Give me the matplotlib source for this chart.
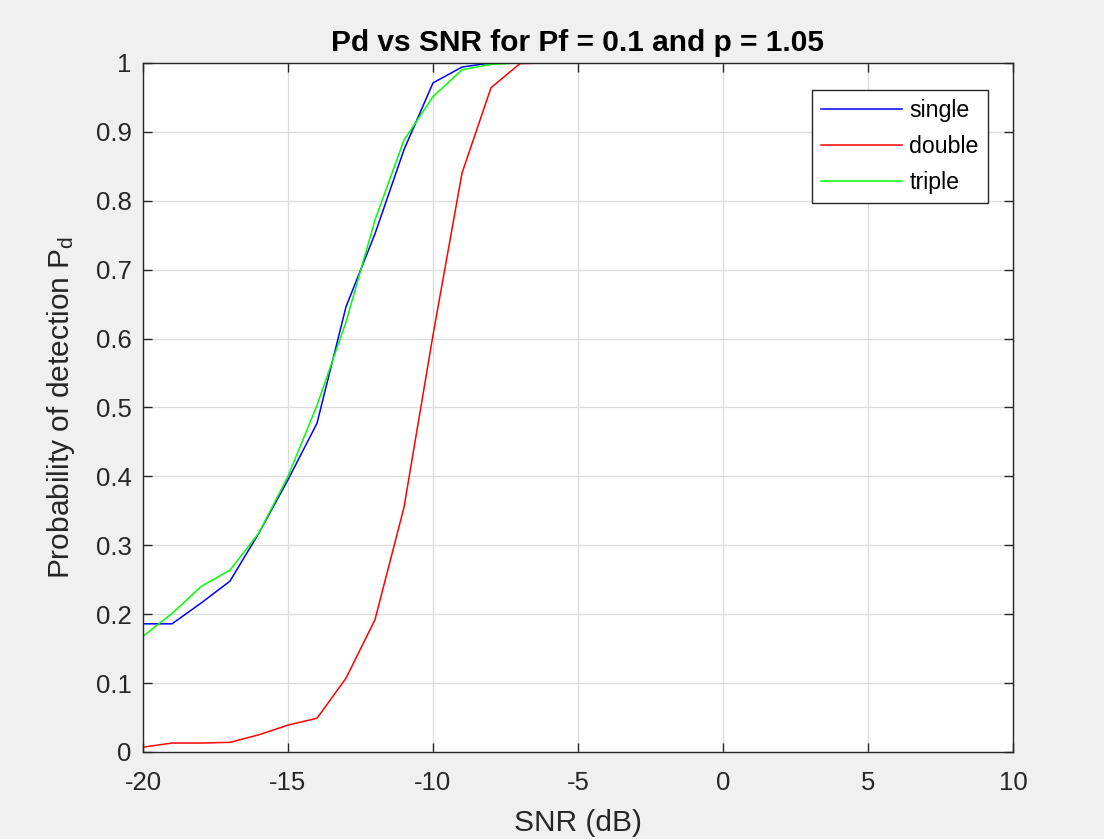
import numpy as np
import matplotlib
matplotlib.use("Agg")
import matplotlib.pyplot as plt

# SNR grid (dB) and detection probability
snr_db = np.arange(-20, 11)

pd_single = [0.186, 0.186, 0.216, 0.248, 0.318, 0.395, 0.477, 0.646, 0.752, 0.874,
             0.971, 0.994, 1.0, 1.0, 1.0, 1.0, 1.0, 1.0, 1.0, 1.0,
             1.0, 1.0, 1.0, 1.0, 1.0, 1.0, 1.0, 1.0, 1.0, 1.0, 1.0]
pd_double = [0.007, 0.013, 0.013, 0.014, 0.025, 0.039, 0.049, 0.107, 0.192, 0.355,
             0.605, 0.840, 0.964, 0.999, 1.0, 1.0, 1.0, 1.0, 1.0, 1.0,
             1.0, 1.0, 1.0, 1.0, 1.0, 1.0, 1.0, 1.0, 1.0, 1.0, 1.0]
pd_triple = [0.168, 0.201, 0.240, 0.264, 0.318, 0.400, 0.503, 0.624, 0.772, 0.888,
             0.951, 0.990, 0.998, 1.0, 1.0, 1.0, 1.0, 1.0, 1.0, 1.0,
             1.0, 1.0, 1.0, 1.0, 1.0, 1.0, 1.0, 1.0, 1.0, 1.0, 1.0]

ytick_labels = ['0', '0.1', '0.2', '0.3', '0.4', '0.5', '0.6', '0.7', '0.8', '0.9', '1']

plt.rcParams['font.family'] = ['Liberation Sans', 'DejaVu Sans']
plt.rcParams['mathtext.fontset'] = 'custom'
plt.rcParams['mathtext.rm'] = 'Liberation Sans'
plt.rcParams['mathtext.it'] = 'Liberation Sans'
plt.rcParams['axes.unicode_minus'] = False

dark = '#262626'
fig = plt.figure(figsize=(11.04, 8.39), dpi=100, facecolor='#f0f0f0')
ax = fig.add_axes([0.1295, 0.1037, 0.7881, 0.8213])

ax.plot(snr_db, pd_single, color='#0000ff', lw=1.1, label='single')
ax.plot(snr_db, pd_double, color='#ff0000', lw=1.1, label='double')
ax.plot(snr_db, pd_triple, color='#00ff00', lw=1.1, label='triple')

ax.set_xlim(-20, 10)
ax.set_ylim(0, 1)
ax.set_xticks(np.arange(-20, 11, 5))
ax.set_yticks(np.linspace(0, 1, 11))
ax.set_yticklabels(ytick_labels)
ax.grid(True, color='#dcdcdc', lw=0.9)
ax.set_axisbelow(True)
ax.tick_params(direction='in', length=6.5, width=1, colors=dark, labelsize=18.5,
               top=True, right=True)
ax.tick_params(axis='x', pad=14)
ax.tick_params(axis='y', pad=8)
for s in ax.spines.values():
    s.set_color(dark)
    s.set_linewidth(1)

ax.set_title('Pd vs SNR for Pf = 0.1 and p = 1.05', fontsize=21.5, fontweight='bold',
             color='black', pad=8.5)
ax.set_xlabel('SNR (dB)', fontsize=21.5, color=dark, labelpad=10)
ax.set_ylabel(r'Probability of detection P$_\mathregular{d}$', fontsize=21.5, color=dark,
              labelpad=14)

leg = ax.legend(loc='upper right', bbox_to_anchor=(0.9713, 0.9608), borderaxespad=0,
                fontsize=16.7, fancybox=False, framealpha=1, edgecolor=dark,
                handlelength=3.5, borderpad=0.4, labelspacing=0.55, handletextpad=0.3)
leg.get_frame().set_linewidth(1)

fig.savefig('out.png', dpi=100, facecolor=fig.get_facecolor())
